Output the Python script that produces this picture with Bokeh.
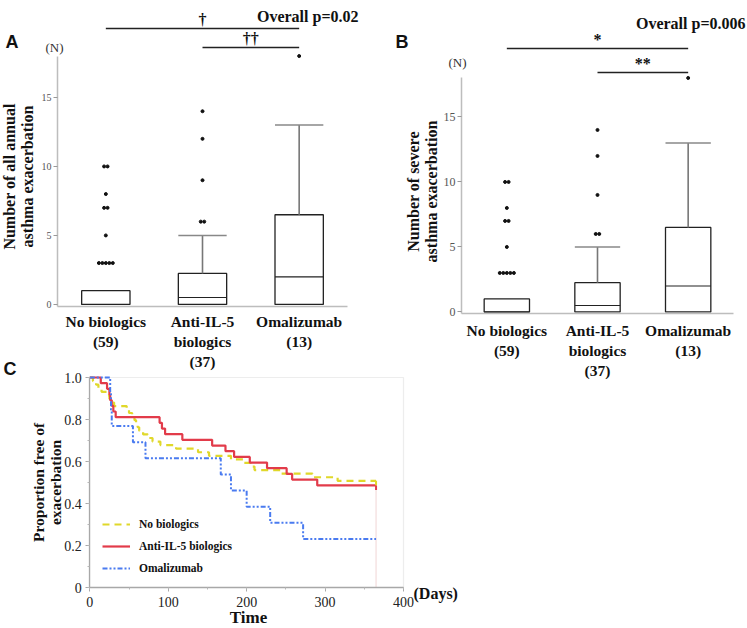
import numpy as np
from bokeh.plotting import figure
from bokeh.models import (Range1d, FixedTicker, SingleIntervalTicker, Label,
                          Legend, LegendItem, BoxAnnotation)
from bokeh.layouts import row, column
from bokeh.embed import file_html
from bokeh.resources import INLINE

# ---------------- data ----------------
groups = ["No biologics", "Anti-IL-5\nbiologics", "Omalizumab"]
group_n = [59, 37, 13]

# Panel A: number of all annual asthma exacerbations
a_q1 = [0, 0, 0]
a_median = [0, 0.5, 2]
a_q3 = [1, 2.25, 6.5]
a_whisker_hi = [1, 5, 13]
a_out_group = [0, 0, 0, 0, 0, 0, 0, 0, 0, 0, 0, 1, 1, 1, 1, 1, 2]
a_out_value = [10, 10, 8, 7, 7, 5, 3, 3, 3, 3, 3, 14, 12, 9, 6, 6, 18]

# Panel B: number of severe asthma exacerbations
b_q1 = [0, 0, 0]
b_median = [0, 0.5, 2]
b_q3 = [1, 2.25, 6.5]
b_whisker_hi = [1, 5, 13]
b_out_group = [0, 0, 0, 0, 0, 0, 0, 0, 0, 0, 0, 1, 1, 1, 1, 1, 2]
b_out_value = [10, 10, 8, 7, 7, 5, 3, 3, 3, 3, 3, 14, 12, 9, 6, 6, 18]

y_ticks = [0, 5, 10, 15]
y_axis_top = 18

a_overall = "Overall p=0.02"
b_overall = "Overall p=0.006"
a_pair_from = [0, 1]
a_pair_to = [2, 2]
a_pair_mark = ["\u2020", "\u2020\u2020"]
b_pair_from = [0, 1]
b_pair_to = [2, 2]
b_pair_mark = ["*", "**"]

# Panel C: Kaplan-Meier, proportion free of exacerbation
km_labels = ["No biologics", "Anti-IL-5 biologics", "Omalizumab"]
none_days = [0, 4, 8, 11, 15, 22, 25, 28, 31, 47, 50, 54, 57, 59, 61, 63, 68, 74,
             80, 90, 110, 138, 152, 180, 196, 205, 210, 244, 284, 316, 365]
none_surv = [1.0, 0.983, 0.966, 0.949, 0.932, 0.915, 0.898, 0.881, 0.864, 0.847,
             0.831, 0.814, 0.797, 0.780, 0.763, 0.746, 0.729, 0.712, 0.695, 0.678,
             0.661, 0.644, 0.627, 0.610, 0.593, 0.576, 0.559, 0.542, 0.525, 0.508,
             0.508]
il5_days = [0, 14, 22, 25, 26, 28, 30, 33, 89, 92, 96, 118, 156, 173, 184, 204,
            226, 251, 258, 290, 365]
il5_surv = [1.0, 0.973, 0.946, 0.919, 0.892, 0.865, 0.838, 0.811, 0.784, 0.757,
            0.730, 0.703, 0.676, 0.649, 0.622, 0.595, 0.568, 0.541, 0.514, 0.486,
            0.486]
oma_days = [0, 26, 27, 28, 55, 71, 167, 180, 200, 230, 272, 365]
oma_surv = [1.0, 0.923, 0.846, 0.769, 0.692, 0.615, 0.538, 0.462, 0.385, 0.308,
            0.231, 0.231]
follow_up_end = 365
c_xlim = (0, 400)
c_ylim = (0, 1)

# ---------------- styles ----------------
SERIF = "Liberation Serif"
SANS = "Liberation Sans"
tick_labels = {i + 0.5: f"{g}\n({n})" for i, (g, n) in enumerate(zip(groups, group_n))}


class Panel:
    """Figure whose frame fills the whole canvas; axes drawn at fixed spots."""

    def __init__(self, left, top, width, height, ax_px, ax_val, sx, ay_px, ay_val, sy):
        self.left, self.top = left, top
        self.ax_px, self.ax_val, self.sx = ax_px, ax_val, sx
        self.ay_px, self.ay_val, self.sy = ay_px, ay_val, sy
        x0 = self.fx(left)
        x1 = self.fx(left + width)
        y1 = self.fy(top)
        y0 = self.fy(top + height)
        self.p = figure(width=width, height=height, x_range=Range1d(x0, x1),
                        y_range=Range1d(y0, y1), output_backend="svg",
                        toolbar_location=None, min_border=0, title=None)
        self.p.grid.visible = False
        self.p.outline_line_color = None

    def fx(self, page_x):
        return self.ax_val + (page_x - self.ax_px) / self.sx

    def fy(self, page_y):
        return self.ay_val + (self.ay_px - page_y) / self.sy

    def lab(self, px, py, text, font=SERIF, size="16px", style="bold",
            align="center", baseline="middle", angle=0, color="#111111", lh=1.05):
        self.p.add_layout(Label(x=self.fx(px), y=self.fy(py), text=text,
                                text_font=font, text_font_size=size,
                                text_font_style=style, text_align=align,
                                text_baseline=baseline, angle=angle,
                                angle_units="deg", text_color=color,
                                text_line_height=lh))


def box_panel(P, y_lo, q1, med, q3, whi, og, ov, jitter, ytick_size, xstandoff):
    p = P.p
    p.background_fill_color = "white"
    p.border_fill_color = "white"
    xs = [i + 0.5 for i in range(len(groups))]
    bw = 0.5
    p.vbar(x=xs, bottom=q1, top=q3, width=bw, fill_color="white",
           line_color="#222222", line_width=1.3)
    p.segment(x0=[x - bw / 2 for x in xs], x1=[x + bw / 2 for x in xs],
              y0=med, y1=med, line_color="#222222", line_width=1.1)
    wx = [x for x, a, b in zip(xs, q3, whi) if b > a]
    wq = [a for a, b in zip(q3, whi) if b > a]
    wh = [b for a, b in zip(q3, whi) if b > a]
    p.segment(x0=wx, x1=wx, y0=wq, y1=wh, line_color="#777777", line_width=1.6)
    p.segment(x0=[x - bw / 2 for x in wx], x1=[x + bw / 2 for x in wx],
              y0=wh, y1=wh, line_color="#888888", line_width=1.6)

    keys = list(zip(og, ov))
    ox, seen = [], {}
    for k in keys:
        n = keys.count(k)
        j = seen.get(k, 0)
        seen[k] = j + 1
        ox.append(xs[k[0]] + (j - (n - 1) / 2) * jitter)
    p.scatter(x=ox, y=ov, size=3.0, color="#111111", marker="circle")

    ya = p.yaxis[0]
    ya.fixed_location = 0
    ya.ticker = FixedTicker(ticks=y_ticks)
    ya.bounds = (y_lo, y_axis_top)
    ya.axis_line_color = "#bdbdbd"
    ya.axis_line_width = 1.5
    ya.major_tick_line_color = "#999999"
    ya.major_tick_out = 4
    ya.major_tick_in = 0
    ya.minor_tick_line_color = None
    ya.major_label_text_font = SERIF
    ya.major_label_text_font_size = ytick_size
    ya.major_label_text_color = "#555555"
    ya.major_label_standoff = 2

    xa = p.xaxis[0]
    xa.fixed_location = y_lo
    xa.bounds = (0, len(groups))
    xa.ticker = FixedTicker(ticks=xs)
    xa.major_label_overrides = tick_labels
    xa.axis_line_color = "#bdbdbd"
    xa.axis_line_width = 1.5
    xa.major_tick_line_color = None
    xa.minor_tick_line_color = None
    xa.major_tick_out = 0
    xa.major_label_standoff = xstandoff
    xa.major_label_text_font = SERIF
    xa.major_label_text_font_style = "bold"
    xa.major_label_text_font_size = "15.5px"
    xa.major_label_text_color = "#111111"
    xa.major_label_text_line_height = 1.2
    return xs


def brackets(P, xs, frm, to, marks, levels_py, mark_gap):
    x0 = [xs[f] for f in frm]
    x1 = [xs[t] for t in to]
    lv = [P.fy(v) for v in levels_py]
    P.p.segment(x0=x0, x1=x1, y0=lv, y1=lv, line_color="#222222", line_width=1.4)
    for a, b, m, py in zip(x0, x1, marks, levels_py):
        xm = (a + b) / 2
        P.p.add_layout(Label(x=xm, y=P.fy(py - mark_gap), text=m, text_font=SERIF,
                             text_font_size="16px", text_font_style="bold",
                             text_align="center", text_baseline="bottom",
                             text_color="#111111"))


# ---------------- Panel A ----------------
A = Panel(0, 0, 370, 380, 57, 0, 290 / 3.0, 306, -0.15, 13.8)
xa_c = box_panel(A, -0.15, a_q1, a_median, a_q3, a_whisker_hi, a_out_group,
                 a_out_value, 0.036, "10px", 6)
brackets(A, xa_c, a_pair_from, a_pair_to, a_pair_mark, [28, 47], 1)
A.lab(358, 15.5, a_overall, align="right", baseline="alphabetic")
A.lab(5, 41, "A", font=SANS, size="18px", align="left")
A.lab(3, 368, "C", font=SANS, size="18px", align="left")
A.lab(54, 47, "(N)", style="normal", size="13px", color="#333333")
A.lab(18, 176, "Number of all annual\nasthma exacerbation", angle=90, size="16px")

# ---------------- Panel B ----------------
B = Panel(370, 0, 377, 380, 461, 0, 272 / 3.0, 313, -0.12, 13.0)
xb_c = box_panel(B, -0.12, b_q1, b_median, b_q3, b_whisker_hi, b_out_group,
                 b_out_value, 0.039, "12px", 8)
brackets(B, xb_c, b_pair_from, b_pair_to, b_pair_mark, [48, 72], 1)
B.lab(745, 23, b_overall, align="right", baseline="alphabetic")
B.lab(395, 41, "B", font=SANS, size="18px", align="left")
B.lab(457, 62, "(N)", style="normal", size="13px", color="#333333")
B.lab(422, 191, "Number of severe\nasthma exacerbation", angle=90, size="16px")

# ---------------- Panel C ----------------
C = Panel(0, 368, 465, 258, 89.3, 0, 313.7 / 400.0, 587, 0, 210.0)
pc = C.p
pc.border_fill_color = None
pc.background_fill_color = None

pc.add_layout(BoxAnnotation(left=c_xlim[0], right=c_xlim[1], bottom=c_ylim[0],
                            top=c_ylim[1], fill_alpha=0, line_color="#c4c4c4",
                            line_width=1.2, level="underlay"))
pc.segment(x0=[follow_up_end], x1=[follow_up_end], y0=[0], y1=[il5_surv[-1]],
           line_color="#f0d6d6", line_width=1)
r_none = pc.step(none_days, none_surv, mode="after", line_color="#e0d82a",
                 line_width=2.2, line_dash="7 5")
r_il5 = pc.step(il5_days, il5_surv, mode="after", line_color="#e23b4a",
                line_width=2.2)
r_oma = pc.step(oma_days, oma_surv, mode="after", line_color="#4a7bf0",
                line_width=2.0, line_dash="5 2 2 2 2 2")
pc.segment(x0=[none_days[-1], il5_days[-1]], x1=[none_days[-1], il5_days[-1]],
           y0=[none_surv[-1], il5_surv[-1]],
           y1=[none_surv[-1] - 0.022, il5_surv[-1] - 0.022],
           line_color=["#e0d82a", "#e23b4a"], line_width=2)

legend = Legend(items=[LegendItem(label=km_labels[0], renderers=[r_none]),
                       LegendItem(label=km_labels[1], renderers=[r_il5]),
                       LegendItem(label=km_labels[2], renderers=[r_oma])],
                location=(102, 626 - 578), padding=0, margin=0, spacing=2,
                glyph_width=28, glyph_height=20, label_standoff=9,
                border_line_color=None, background_fill_alpha=0,
                label_text_font=SERIF, label_text_font_style="bold",
                label_text_font_size="11.5px", label_text_color="#111111")
pc.add_layout(legend)

for ax, iv, bnd in ((pc.xaxis[0], 100, c_xlim), (pc.yaxis[0], 0.2, c_ylim)):
    ax.fixed_location = 0
    ax.bounds = bnd
    ax.ticker = SingleIntervalTicker(interval=iv, num_minor_ticks=2)
    ax.axis_line_color = "#a8a8a8"
    ax.axis_line_width = 1.3
    ax.major_tick_line_color = "#a8a8a8"
    ax.minor_tick_line_color = "#b8b8b8"
    ax.major_tick_out = 4
    ax.major_tick_in = 0
    ax.minor_tick_out = 2
    ax.minor_tick_in = 0
    ax.major_label_text_font = SERIF
    ax.major_label_text_font_size = "14px"
    ax.major_label_text_color = "#222222"
pc.xaxis[0].major_label_standoff = 5
pc.yaxis[0].major_label_standoff = 4
pc.yaxis[0].major_label_overrides = {0: "0", 1: "1.0"}

C.lab(248, 617, "Time", size="17px")
C.lab(413, 593, "(Days)", size="16px", align="left")
C.lab(46, 482, "Proportion free of\nexacerbation", angle=90, size="15.5px", lh=1.0)

pc.margin = (-12, 0, 0, 0)

layout = column(row(A.p, B.p), pc)
open("out.html", "w").write(file_html(layout, INLINE))
